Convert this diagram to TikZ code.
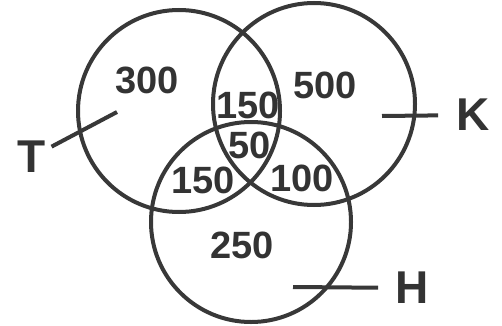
\documentclass[tikz,border=0pt]{standalone}
\usepackage{fontspec}
\setmainfont{Liberation Sans}
\usetikzlibrary{positioning}
\definecolor{ink}{HTML}{383838}
\definecolor{numink}{HTML}{333333}
\tikzset{
  setring/.style={draw=ink, line width=4pt, circle, minimum size=202pt, inner sep=0pt},
  count/.style={font=\bfseries\fontsize{38}{38}\selectfont, text=numink, inner sep=0pt},
  setname/.style={font=\bfseries\fontsize{46}{46}\selectfont, text=numink, inner sep=0pt},
  pointer/.style={draw=ink, line width=4pt}
}
\begin{document}
\begin{tikzpicture}[x=1pt,y=1pt]
  \useasboundingbox (0,0) rectangle (502,325);
  % the three sets
  \node[setring] (ringT) at (179,214) {};
  \node[setring] (ringK) at (314,221) {};
  \node[setring, minimum size=200pt] (ringH) at (251,103) {};
  % region counts
  \node[count] (onlyT) at (147,245) {300};
  \node[count] (onlyK) at (325,240) {500};
  \node[count] (TK) at (248,220) {150};
  \node[count] (TKH) at (250,180) {50};
  \node[count] (TH) at (203,145) {150};
  \node[count] (KH) at (302,147) {100};
  \node[count] (onlyH) at (242,80) {250};
  % set names with pointers
  \node[setname] (T) at (32,168) {T};
  \node[setname] (K) at (473,210) {K};
  \node[setname] (H) at (412,37) {H};
  \coordinate (T-tip) at (117,213);
  \coordinate (K-tip) at (382,209);
  \coordinate (H-tip) at (293,38);
  \draw[pointer, shorten <=6pt] (T) -- (T-tip);
  \draw[pointer, shorten <=18pt] (K) -- (K-tip);
  \draw[pointer, shorten <=17pt] (H) -- (H-tip);
\end{tikzpicture}
\end{document}
